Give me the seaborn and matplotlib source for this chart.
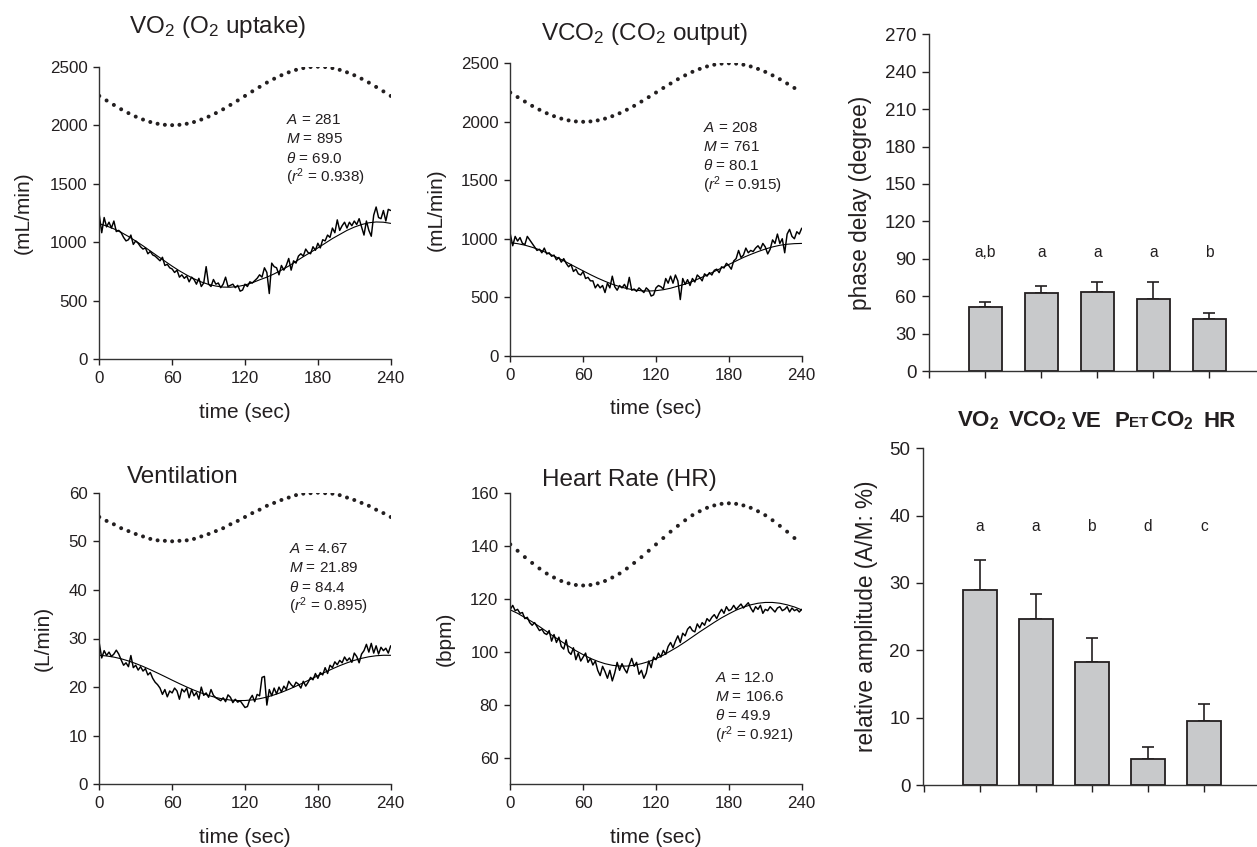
import numpy as np
import pandas as pd
import matplotlib
matplotlib.use("Agg")
import matplotlib.pyplot as plt
import seaborn as sns

# ---------------- data ----------------
t_raw = np.arange(0, 241, 2)
t_fit = np.arange(0, 241, 6)
t_stim = np.arange(0, 241, 6)

vo2_raw = [1230, 1080, 1210, 1130, 1170, 1120, 1180, 1090, 1100, 1080,
           1040, 1010, 1020, 1060, 980, 1010, 990, 960, 940, 950,
           900, 920, 890, 880, 860, 840, 870, 800, 810, 780,
           770, 740, 760, 700, 720, 690, 710, 660, 700, 680,
           640, 690, 620, 650, 790, 640, 620, 680, 640, 650,
           610, 640, 700, 620, 630, 640, 610, 630, 580, 590,
           640, 620, 660, 650, 670, 690, 720, 700, 780, 740,
           560, 820, 790, 780, 720, 800, 760, 800, 860, 760,
           840, 820, 880, 900, 880, 940, 910, 900, 960, 930,
           990, 950, 1020, 1010, 1060, 1040, 1120, 1080, 1190, 1100,
           1140, 1170, 1120, 1170, 1140, 1180, 1150, 1200, 1130, 1060,
           1180, 1100, 1050, 1230, 1300, 1210, 1200, 1270, 1180, 1280,
           1270]
vo2_fit = [1157, 1138, 1113, 1083, 1048, 1009, 968, 924, 880, 837, 794,
           754, 718, 686, 659, 638, 624, 615, 614, 620, 633, 652, 677,
           700, 728, 760, 795, 835, 875, 912, 950, 990, 1030, 1065,
           1100, 1128, 1150, 1165, 1172, 1170, 1160]
vo2_stim = [2250, 2211, 2173, 2136, 2103, 2073, 2048, 2027, 2012, 2003,
            2000, 2003, 2012, 2027, 2048, 2073, 2103, 2136, 2173, 2211,
            2250, 2289, 2327, 2364, 2397, 2427, 2452, 2473, 2488, 2497,
            2500, 2497, 2488, 2473, 2452, 2427, 2397, 2364, 2327, 2289,
            2250]

vco2_raw = [1040, 940, 1020, 980, 1010, 960, 950, 1020, 990, 960,
            930, 900, 910, 880, 920, 870, 880, 850, 860, 820,
            840, 800, 830, 790, 760, 780, 720, 740, 700, 690,
            720, 660, 670, 640, 640, 580, 610, 580, 600, 540,
            620, 580, 680, 590, 560, 600, 580, 610, 570, 670,
            560, 570, 550, 580, 560, 540, 580, 560, 510, 520,
            580, 600, 590, 570, 660, 620, 680, 620, 690, 640,
            480, 660, 610, 650, 600, 660, 630, 690, 670, 640,
            700, 680, 710, 690, 730, 740, 710, 760, 750, 790,
            770, 740, 810, 830, 900, 840, 860, 920, 880, 900,
            890, 920, 940, 910, 960, 930, 870, 910, 990, 960,
            1040, 960, 1000, 880, 1040, 1080, 1020, 1000, 1060, 1040,
            1090]
vco2_fit = [966, 958, 945, 927, 906, 880, 852, 822, 790, 757, 725,
            693, 663, 636, 611, 591, 574, 562, 555, 553, 556, 564, 577,
            595, 612, 635, 662, 690, 720, 750, 780, 810, 840, 866, 890,
            912, 930, 944, 953, 958, 960]
vco2_stim = vo2_stim[:40]

ve_raw = [29.0, 26.0, 27.5, 26.5, 27.2, 26.3, 26.8, 27.6, 26.8, 25.6,
          24.5, 25.0, 24.2, 26.5, 24.0, 24.5, 23.5, 24.2, 23.3, 23.8,
          22.5, 23.0, 21.8, 21.0, 20.5, 19.8, 18.5, 19.5, 18.0, 19.2,
          18.8, 19.8, 19.2, 17.5, 19.6, 19.0, 19.8, 17.8, 19.5, 18.2,
          18.9, 17.5, 20.0, 18.3, 18.8, 17.9, 19.5, 18.3, 17.8, 17.5,
          17.2, 17.8, 17.0, 18.4, 17.9, 16.8, 17.5, 16.9, 17.2, 16.5,
          15.8, 16.0, 17.5, 18.3, 17.0, 18.5, 18.2, 22.0, 22.2, 16.3,
          19.5, 18.2, 19.8, 18.6, 20.0, 19.0, 20.2, 19.5, 21.2, 20.5,
          20.0, 21.0, 20.6, 19.8, 21.2, 20.2, 21.0, 22.0, 21.5, 22.8,
          21.8, 23.0, 22.5, 24.0, 22.8, 24.5, 24.0, 25.2, 24.6, 25.5,
          25.0, 26.2, 25.4, 26.0, 25.1, 27.0, 26.3, 25.0, 26.8, 27.5,
          28.8, 27.2, 29.0, 27.0, 28.5, 26.8, 28.2, 27.5, 28.0, 27.0,
          28.5]
ve_fit = [26.54, 26.41, 26.17, 25.83, 25.38, 24.85, 24.25, 23.59, 22.89,
          22.17, 21.43, 20.71, 20.02, 19.37, 18.79, 18.28, 17.86, 17.54,
          17.33, 17.23, 17.24, 17.37, 17.61, 17.95, 18.40, 18.92, 19.53,
          20.19, 20.89, 21.61, 22.35, 23.07, 23.76, 24.41, 24.99, 25.50,
          25.92, 26.24, 26.45, 26.55, 26.54]
ve_stim = [55.0, 54.2, 53.5, 52.7, 52.1, 51.5, 51.0, 50.5, 50.2, 50.1,
           50.0, 50.1, 50.2, 50.5, 51.0, 51.5, 52.1, 52.7, 53.5, 54.2,
           55.0, 55.8, 56.5, 57.3, 57.9, 58.5, 59.0, 59.5, 59.8, 59.9,
           60.0, 59.9, 59.8, 59.5, 59.0, 58.5, 57.9, 57.3, 56.5, 55.8,
           55.0]

hr_raw = [116.0, 117.5, 115.5, 116.0, 114.5, 114.8, 112.5, 113.0, 111.0, 110.0,
          111.0, 109.5, 108.0, 108.5, 107.0, 106.5, 108.0, 104.0, 106.5, 103.5,
          105.5, 102.0, 101.0, 104.5, 100.0, 99.0, 101.5, 97.0, 99.5, 96.5,
          98.0, 99.5, 96.0, 97.5, 95.0, 96.5, 93.0, 91.0, 94.5, 92.5,
          90.0, 93.0, 89.0, 92.0, 96.0, 93.0, 95.5, 93.5, 92.0, 95.0,
          97.5, 94.5, 96.0, 91.5, 93.0, 90.0, 92.0, 96.5, 94.0, 98.0,
          97.0, 99.5, 98.0, 100.5, 99.0, 102.0, 103.5, 101.5, 104.0, 106.0,
          103.5, 107.0, 106.0, 108.5, 109.5, 108.0, 107.5, 110.5, 109.0, 111.0,
          110.0, 112.5, 111.5, 113.0, 114.0, 112.5, 114.5, 116.0, 114.5, 117.0,
          115.5, 116.0, 117.5, 116.0, 117.0, 118.0, 116.5, 117.5, 118.5, 116.5,
          115.0, 117.0, 116.0, 117.5, 114.5, 116.0, 115.5, 117.0, 116.0, 115.0,
          116.5, 117.0, 115.5, 116.0, 117.0, 115.0, 116.5, 115.5, 116.0, 115.0,
          116.0]
hr_fit = [115.8, 114.5, 112.9, 111.3, 109.5, 107.6, 105.7, 103.9, 102.1,
          100.4, 98.9, 97.5, 96.4, 95.5, 94.9, 94.6, 94.6, 94.9, 95.5, 96.3,
          97.4, 98.7, 100.3, 101.9, 103.7, 105.6, 107.5, 109.3, 111.1, 112.8,
          114.3, 115.7, 116.8, 117.7, 118.3, 118.6, 118.6, 118.3, 117.7,
          116.9, 115.8]
hr_stim = [140.5, 138.1, 135.7, 133.5, 131.4, 129.5, 128.0, 126.7, 125.8,
           125.2, 125.0, 125.2, 125.8, 126.7, 128.0, 129.5, 131.4, 133.5,
           135.7, 138.1, 140.5, 142.9, 145.3, 147.5, 149.6, 151.5, 153.0,
           154.3, 155.2, 155.8, 156.0, 155.8, 155.2, 154.3, 153.0, 151.5,
           149.6, 147.5, 145.3, 142.9]

fit_params = {
    "VO2": ["281", "895", "69.0", "0.938"],
    "VCO2": ["208", "761", "80.1", "0.915"],
    "VE": ["4.67", "21.89", "84.4", "0.895"],
    "HR": ["12.0", "106.6", "49.9", "0.921"],
}

categories = ["VO2", "VCO2", "VE", "PETCO2", "HR"]
phase_delay = [51.1, 62.6, 63.6, 57.8, 41.4]
phase_err = [4.0, 5.8, 8.1, 13.9, 5.4]
phase_letters = ["a,b", "a", "a", "a", "b"]
rel_amp = [29.0, 24.7, 18.2, 3.8, 9.5]
rel_amp_err = [4.4, 3.6, 3.7, 1.8, 2.6]
amp_letters = ["a", "a", "b", "d", "c"]

# ---------------- style ----------------
INK = "#231f20"
sns.set_style("ticks")
plt.rcParams["font.family"] = ["Liberation Sans", "DejaVu Sans"]
plt.rcParams["mathtext.fontset"] = "custom"
plt.rcParams["mathtext.rm"] = "Liberation Sans"
plt.rcParams["mathtext.it"] = "Liberation Sans:italic"
plt.rcParams["mathtext.bf"] = "Liberation Sans:bold"
plt.rcParams["mathtext.sf"] = "Liberation Sans"
plt.rcParams["text.color"] = INK
plt.rcParams["axes.labelcolor"] = INK
plt.rcParams["xtick.color"] = INK
plt.rcParams["ytick.color"] = INK
plt.rcParams["axes.edgecolor"] = "#333333"

W, H = 1257, 847
fig = plt.figure(figsize=(W / 100, H / 100), dpi=100)


def rect(x0, y_top, x1, y_bot):
    return [x0 / W, 1 - y_bot / H, (x1 - x0) / W, (y_bot - y_top) / H]


def style_axes(ax, tick_size, length=4.0):
    sns.despine(ax=ax)
    for s in ("left", "bottom"):
        ax.spines[s].set_linewidth(1.0)
    ax.tick_params(axis="both", direction="out", length=length, width=1.0,
                   labelsize=tick_size, pad=4.5)


panels = [
    dict(rect=rect(99.3, 66.7, 390.7, 359.0), raw=vo2_raw, fit=vo2_fit,
         stim=vo2_stim, ylim=(0, 2500), yticks=range(0, 2501, 500),
         ylabel="(mL/min)", ylx=-0.262, title="VO$_2$ (O$_2$ uptake)",
         tpos=(217.5, 33.3), key="VO2", ann=(154, 2044)),
    dict(rect=rect(510.3, 63.3, 801.7, 355.7), raw=vco2_raw, fit=vco2_fit,
         stim=vco2_stim, ylim=(0, 2500), yticks=range(0, 2501, 500),
         ylabel="(mL/min)", ylx=-0.253, title="VCO$_2$ (CO$_2$ output)",
         tpos=(644.2, 40.0), key="VCO2", ann=(159, 1949)),
    dict(rect=rect(99.3, 492.7, 390.7, 784.3), raw=ve_raw, fit=ve_fit,
         stim=ve_stim, ylim=(0, 60), yticks=range(0, 61, 10),
         ylabel="(L/min)", ylx=-0.193, title="Ventilation",
         tpos=(182.5, 483.3), key="VE", ann=(156.5, 48.4)),
    dict(rect=rect(510.3, 492.7, 801.7, 784.3), raw=hr_raw, fit=hr_fit,
         stim=hr_stim, ylim=(50, 160), yticks=range(60, 161, 20),
         ylabel="(bpm)", ylx=-0.224, title="Heart Rate (HR)",
         tpos=(629.2, 486.0), key="HR", ann=(168.6, 90.2)),
]

for p in panels:
    ax = fig.add_axes(p["rect"])
    sns.lineplot(x=t_raw, y=p["raw"], ax=ax, color="black", lw=1.05,
                 estimator=None, sort=False)
    sns.lineplot(x=t_fit, y=p["fit"], ax=ax, color="black", lw=0.8,
                 estimator=None, sort=False)
    sns.scatterplot(x=t_stim[:len(p["stim"])], y=p["stim"], ax=ax,
                    color=INK, s=8, edgecolor="none", linewidth=0)
    ax.set_xlim(0, 240)
    ax.set_ylim(*p["ylim"])
    ax.set_xticks([0, 60, 120, 180, 240])
    ax.set_yticks(list(p["yticks"]))
    style_axes(ax, 12.2)
    ax.set_xlabel("time (sec)", fontsize=15, va="center")
    ax.xaxis.set_label_coords(0.5, -0.182)
    ax.set_ylabel(p["ylabel"], fontsize=15, va="center")
    ax.yaxis.set_label_coords(p["ylx"], 0.5)
    fig.text(p["tpos"][0] / W, 1 - p["tpos"][1] / H, p["title"],
             fontsize=17.5, ha="center", va="baseline")
    a, m, th, r2 = fit_params[p["key"]]
    lines = [f"$A$ = {a}", f"$M$ = {m}", fr"$\theta$ = {th}",
             f"($r^2$ = {r2})"]
    for i, s in enumerate(lines):
        ax.annotate(s, xy=p["ann"], xycoords="data", xytext=(0, -13.7 * i),
                    textcoords="offset points", ha="left", va="center",
                    fontsize=11)

# ---------------- bar charts ----------------
bar_specs = [
    dict(rect=rect(929.3, 34.3, 1257, 371.0), vals=phase_delay,
         errs=phase_err, letters=phase_letters, ly=91.2, ylim=(0, 270),
         yticks=range(0, 271, 30), ylabel="phase delay (degree)",
         ylx=-0.211, xlim=(-1, 4.85)),
    dict(rect=rect(923.3, 448.3, 1257, 785.0), vals=rel_amp,
         errs=rel_amp_err, letters=amp_letters, ly=37.7, ylim=(0, 50),
         yticks=range(0, 51, 10), ylabel="relative amplitude (A/M: %)",
         ylx=-0.169, xlim=(-1.01, 4.95)),
]

for b in bar_specs:
    ax = fig.add_axes(b["rect"])
    df = pd.DataFrame({"cat": categories, "val": b["vals"]})
    sns.barplot(data=df, x="cat", y="val", ax=ax, color="#c8c9cb",
                saturation=1, width=0.6, edgecolor=INK, linewidth=1.3,
                errorbar=None, zorder=3)
    ax.errorbar(range(len(categories)), b["vals"],
                yerr=[[0] * len(categories), b["errs"]], fmt="none",
                ecolor=INK, elinewidth=1.2, capsize=4.3, capthick=1.2,
                zorder=2)
    for i, s in enumerate(b["letters"]):
        ax.text(i, b["ly"], s, ha="center", va="baseline", fontsize=11.2)
    ax.set_xlim(*b["xlim"])
    ax.set_ylim(*b["ylim"])
    ax.set_yticks(list(b["yticks"]))
    ax.set_xticks([-1, 0, 1, 2, 3, 4])
    ax.set_xticklabels([""] * 6)
    ax.set_xlabel("")
    style_axes(ax, 13.5, length=4.8)
    ax.set_ylabel(b["ylabel"], fontsize=16.3, va="center")
    ax.yaxis.set_label_coords(b["ylx"], 0.5)

# category labels between the bar charts
lab_y = 1 - 426.7 / H
for x_px, s in [(978.3, r"VO$_\mathbf{2}$"), (1037.5, r"VCO$_\mathbf{2}$"),
                (1086.7, "VE"), (1220.0, "HR")]:
    fig.text(x_px / W, lab_y, s, fontsize=16, fontweight="bold",
             ha="center", va="baseline")
fig.text(1115.0 / W, lab_y, "P", fontsize=16, fontweight="bold",
         ha="left", va="baseline")
fig.text(1129.0 / W, lab_y, "ET", fontsize=11, fontweight="bold",
         ha="left", va="baseline")
fig.text(1149.5 / W, lab_y, r"CO$_\mathbf{2}$", fontsize=16,
         fontweight="bold", ha="left", va="baseline")

fig.savefig("out.png", dpi=100)
